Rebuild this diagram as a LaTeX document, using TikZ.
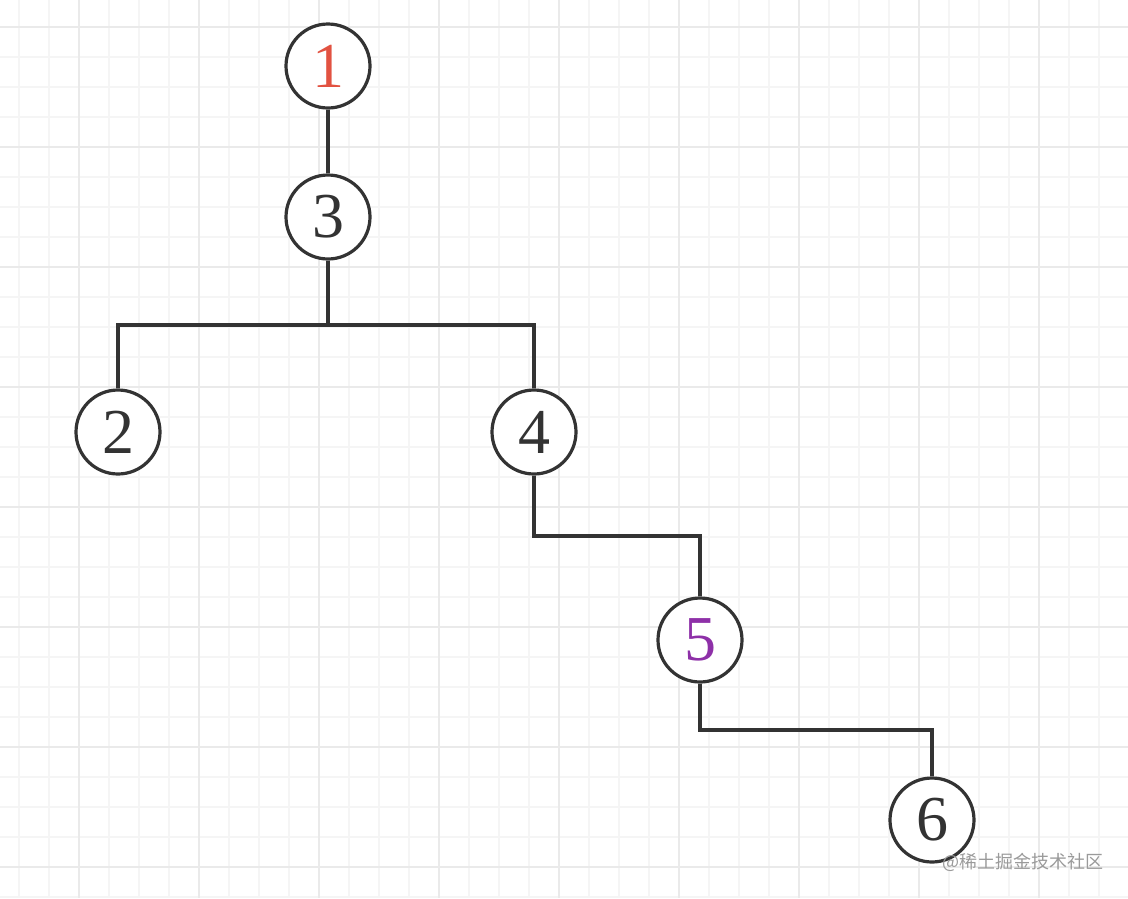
\documentclass[tikz,border=0pt]{standalone}
\usepackage{fontspec}
\setmainfont{Liberation Serif}
\newfontfamily\cjkfont{Noto Sans CJK SC}
\definecolor{minorgrid}{HTML}{F5F5F5}
\definecolor{majorgrid}{HTML}{EAEAEA}
\definecolor{ink}{HTML}{333333}
\definecolor{redlabel}{HTML}{E25241}
\definecolor{purplelabel}{HTML}{8E30A8}
\definecolor{wmgray}{HTML}{9A9A9A}
\begin{document}
\begin{tikzpicture}[x=1pt,y=-1pt,
  treenode/.style={circle,draw=ink,line width=3.2pt,fill=white,minimum size=84pt,inner sep=0pt,
    font=\fontsize{64}{64}\selectfont,text=ink},
  link/.style={draw=ink,line width=3.2pt,line join=miter}]
\useasboundingbox (0,0) rectangle (1128,898);
\fill[white] (0,0) rectangle (1128,898);
% grid
\foreach \i in {0,...,37} {
  \draw[minorgrid,line width=1.5pt] ({19+30*\i},0) -- ({19+30*\i},898);
}
\foreach \i in {0,...,29} {
  \draw[minorgrid,line width=1.5pt] (0,{27+30*\i}) -- (1128,{27+30*\i});
}
\foreach \i in {0,...,8} {
  \draw[majorgrid,line width=2pt] ({79+120*\i},0) -- ({79+120*\i},898);
}
\foreach \i in {0,...,7} {
  \draw[majorgrid,line width=2pt] (0,{27+120*\i}) -- (1128,{27+120*\i});
}
% nodes
\node[treenode] (n1) at (328,66) {\textcolor{redlabel}{1}};
\node[treenode] (n3) at (328,217) {3};
\node[treenode] (n2) at (118,432) {2};
\node[treenode] (n4) at (534,432) {4};
\node[treenode] (n5) at (700,640) {\textcolor{purplelabel}{5}};
\node[treenode] (n6) at (932,820) {6};
\coordinate (j3) at (328,325);
\coordinate (k4) at (700,536);
\coordinate (k5) at (932,730);
% connectors
\draw[link] (n1) -- (n3);
\draw[link] (n3) -- (j3);
\draw[link] (j3) -| (n2);
\draw[link] (j3) -| (n4);
\draw[link] (n4) |- (k4) -- (n5);
\draw[link] (n5) |- (k5) -- (n6);
% watermark
\node[font=\cjkfont\fontsize{18}{18}\selectfont,text=wmgray,inner sep=0pt] (wm) at (1023,862) {@稀土掘金技术社区};
\end{tikzpicture}
\end{document}
